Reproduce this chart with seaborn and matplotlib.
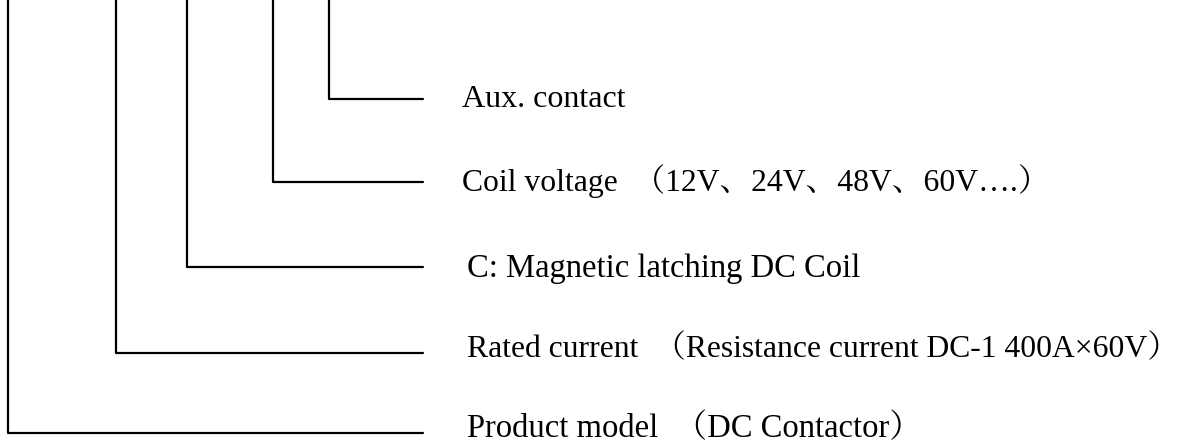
import matplotlib
matplotlib.use("Agg")
import matplotlib.pyplot as plt
import pandas as pd
import seaborn as sns

# Diagram data (pixel coordinates of the 1194x448 picture)
labels = [
    "Product model  （DC Contactor）",
    "Rated current  （Resistance current DC-1 400A×60V）",
    "C: Magnetic latching DC Coil",
    "Coil voltage  （12V、24V、48V、60V….）",
    "Aux. contact",
]
branch_x = [8, 116, 187, 273, 329]
branch_y = [433, 353, 267, 182, 99]
branch_end = [423, 423, 423, 423, 423]
label_x = [467, 467, 467, 462, 462]
label_y = [437, 357, 277, 191, 107]
label_size = [23.5, 22.8, 23.5, 22.8, 23]

sns.set_theme(style="white")
plt.rcParams["font.family"] = ["Liberation Serif", "Noto Serif CJK SC",
                               "Noto Sans CJK SC", "DejaVu Sans"]

fig = plt.figure(figsize=(11.94, 4.48), dpi=100)
ax = fig.add_axes([0, 0, 1, 1])

for bx, by, be in zip(branch_x, branch_y, branch_end):
    seg = pd.DataFrame({"x": [bx, bx, be], "y": [0, by, by]})
    sns.lineplot(data=seg, x="x", y="y", sort=False, estimator=None,
                 color="black", linewidth=1.6, ax=ax)

for lx, ly, txt, fs in zip(label_x, label_y, labels, label_size):
    ax.text(lx, ly, txt, fontsize=fs, va="baseline", ha="left", color="black")

ax.set_xlim(0, 1194)
ax.set_ylim(448, 0)
ax.set_axis_off()

fig.savefig("out.png", dpi=100, facecolor="white")
